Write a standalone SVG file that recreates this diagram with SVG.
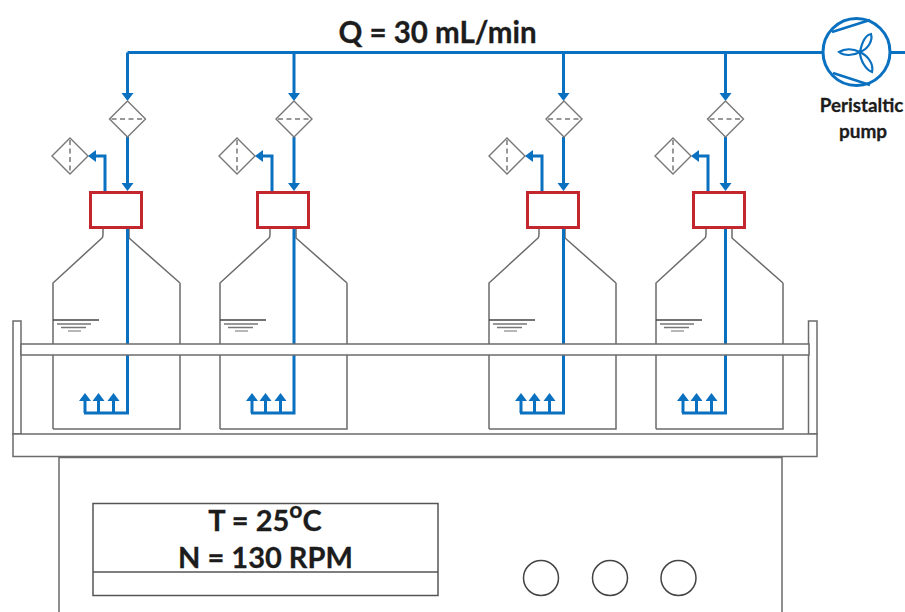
<svg xmlns="http://www.w3.org/2000/svg" xmlns:xlink="http://www.w3.org/1999/xlink" width="905" height="612" viewBox="0 0 905 612">
<style>
.o{fill:none;stroke:#6b6b6b;stroke-width:1.5}
.w{fill:#fff;stroke:#6b6b6b;stroke-width:1.5}
.p{fill:none;stroke:#0a70c0;stroke-width:3}
.a{fill:none;stroke:#0a70c0;stroke-width:3;marker-end:url(#ah)}
.c{fill:#fff;stroke:#c4262e;stroke-width:3}
.d{fill:none;stroke:#777;stroke-width:1.5;stroke-dasharray:5 3.5}
.f{fill:#fff;stroke:#777;stroke-width:1.4}
.l1{stroke:#444;stroke-width:1.4}.l2{stroke:#777;stroke-width:1.4}.l3{stroke:#999;stroke-width:1.4}
.t{font-family:Lato,"Open Sans",sans-serif;font-weight:700;fill:#1c1c1c;text-anchor:middle;stroke:#1c1c1c;stroke-width:.3}
</style>
<defs>
<marker id="ah" markerUnits="userSpaceOnUse" markerWidth="14" markerHeight="14" refX="5" refY="6.500" orient="auto"><path d="M0 .5L8 6.500L0 12.500Z" fill="#0a70c0"/></marker>
<g id="bottle">
<path class="o" d="M0 429V283L49 238Q50 237 50 234V228M127 283V429H0M127 283L76 238Q76 237 76 234V228"/>
<path class="l1" d="M0 320H46"/><path class="l2" d="M4 324H38M8 327.500H33"/><path class="l3" d="M15 331H28"/>
</g>
<g id="filterV"><path class="f" d="M-18 0L0-18L18 0L0 18Z"/><path class="d" d="M-16 0H16"/></g>
<g id="filterS"><path class="f" d="M-18 0L0-18L18 0L0 18Z"/><path class="d" d="M0-16V16"/></g>
</defs>

<g id="bottles">
<use id="bottle-1" xlink:href="#bottle" href="#bottle" x="53"/>
<use id="bottle-2" xlink:href="#bottle" href="#bottle" x="220"/>
<use id="bottle-3" xlink:href="#bottle" href="#bottle" x="489"/>
<use id="bottle-4" xlink:href="#bottle" href="#bottle" x="656"/>
</g>

<g id="connectors">
<path class="p" d="M127.500 52.500H823"/>
<path class="p" d="M891 52.500H905"/>
<path class="a" d="M127.500 52.500V98"/><path class="a" d="M294 52.500V98"/><path class="a" d="M563.500 52.500V98"/><path class="a" d="M725.500 52.500V98"/>
<path class="a" d="M127.500 137V188"/><path class="a" d="M294 137V188"/><path class="a" d="M563.500 137V188"/><path class="a" d="M725.500 137V188"/>
<path class="a" d="M105 192V156H91"/><path class="a" d="M272 192V156H258"/><path class="a" d="M542 192V156H528"/><path class="a" d="M708 192V156H694"/>
<path class="p" d="M127.500 228V413H84"/><path class="p" d="M294 228V413H251"/><path class="p" d="M563.500 228V413H520"/><path class="p" d="M725.500 228V413H682"/>
<path class="a" d="M85 413V396"/><path class="a" d="M98.500 413V396"/><path class="a" d="M113.500 413V396"/>
<path class="a" d="M252 413V396"/><path class="a" d="M265.500 413V396"/><path class="a" d="M280.500 413V396"/>
<path class="a" d="M521 413V396"/><path class="a" d="M534.500 413V396"/><path class="a" d="M549.500 413V396"/>
<path class="a" d="M683 413V396"/><path class="a" d="M696.500 413V396"/><path class="a" d="M711.500 413V396"/>
</g>

<g id="filter-top-1"><use xlink:href="#filterV" href="#filterV" x="127.500" y="119"/></g>
<g id="filter-top-2"><use xlink:href="#filterV" href="#filterV" x="294" y="119"/></g>
<g id="filter-top-3"><use xlink:href="#filterV" href="#filterV" x="564" y="119"/></g>
<g id="filter-top-4"><use xlink:href="#filterV" href="#filterV" x="725.500" y="119"/></g>
<g id="filter-side-1"><use xlink:href="#filterS" href="#filterS" x="70" y="156"/></g>
<g id="filter-side-2"><use xlink:href="#filterS" href="#filterS" x="237" y="156"/></g>
<g id="filter-side-3"><use xlink:href="#filterS" href="#filterS" x="507" y="156"/></g>
<g id="filter-side-4"><use xlink:href="#filterS" href="#filterS" x="673" y="156"/></g>

<g id="cap-1"><rect class="c" x="90.500" y="192.500" width="51" height="35"/></g>
<g id="cap-2"><rect class="c" x="257.500" y="192.500" width="51" height="35"/></g>
<g id="cap-3"><rect class="c" x="527.500" y="192.500" width="51" height="35"/></g>
<g id="cap-4"><rect class="c" x="693.500" y="192.500" width="51" height="35"/></g>

<g id="rack">
<rect class="w" x="13" y="321" width="8" height="113"/>
<rect class="w" x="808.500" y="321" width="8.500" height="113"/>
<rect class="w" x="21" y="344" width="788" height="11"/>
<rect class="w" x="13" y="434" width="804" height="22.500"/>
</g>

<g id="shaker">
<path class="o" d="M59 612V457.500H782V612"/>
</g>
<g id="display">
<rect class="w" x="93" y="503.500" width="345" height="92" style="stroke:#555"/>
<path class="o" d="M93 572H438" style="stroke:#555"/>
<text class="t" x="265" y="531" font-size="29">T = 25<tspan font-size="23" dy="-13">o</tspan><tspan dy="13">C</tspan></text>
<text class="t" x="265.500" y="568" font-size="29">N = 130 RPM</text>
</g>
<g id="knob-1"><circle class="w" cx="541" cy="578" r="17.500" style="stroke:#444"/></g>
<g id="knob-2"><circle class="w" cx="610" cy="578" r="17.500" style="stroke:#444"/></g>
<g id="knob-3"><circle class="w" cx="678.500" cy="578" r="17.500" style="stroke:#444"/></g>

<g id="pump">
<circle cx="856.500" cy="52" r="33.500" fill="#fff" stroke="#0a70c0" stroke-width="3"/>
<path d="M832 32L870 20M833 73L870 85" fill="none" stroke="#0a70c0" stroke-width="2.500"/>
<path d="M860 52C862 42 866 35 871 34C873 41 868 49 860 52ZM860 52C852 48 844 49 839 52C844 56 853 56 860 52ZM860 52C860 60 866 70 872 72C874 64 868 56 860 52Z" fill="none" stroke="#0a70c0" stroke-width="2.200"/>
<text class="t" x="861.500" y="112" font-size="18.800">Peristaltic</text>
<text class="t" x="863" y="138" font-size="19">pump</text>
</g>
<g id="flow-label"><text class="t" x="437.500" y="43" font-size="29.500">Q = 30 mL/min</text></g>
</svg>
